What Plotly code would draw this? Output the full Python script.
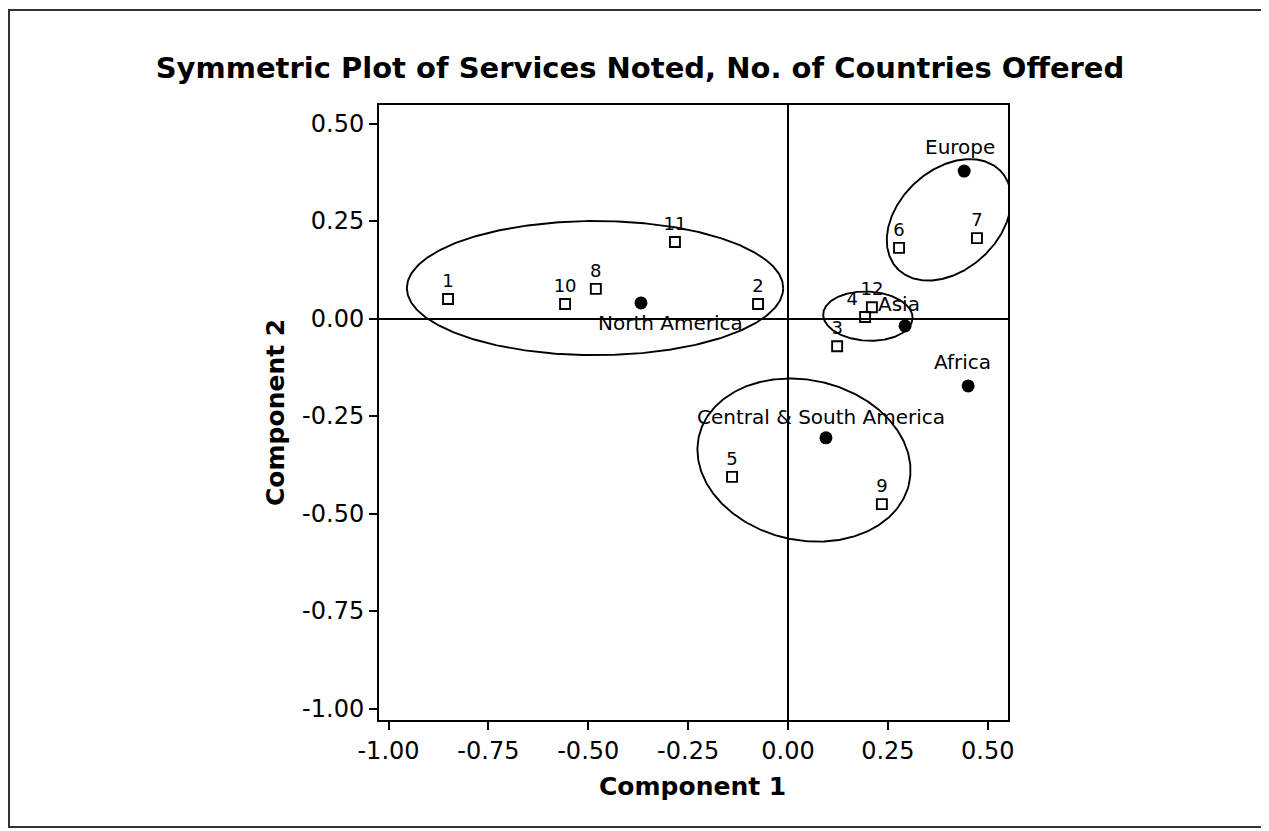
import numpy as np
import plotly.graph_objects as go

# ---- data ----
service_labels = ["1", "2", "3", "4", "5", "6", "7", "8", "9", "10", "11", "12"]
service_x = [-0.851, -0.075, 0.123, 0.193, -0.140, 0.278, 0.473, -0.481, 0.235, -0.558, -0.283, 0.210]
service_y = [0.050, 0.037, -0.071, 0.004, -0.406, 0.181, 0.206, 0.076, -0.476, 0.037, 0.196, 0.029]

region_labels = ["North America", "Europe", "Asia", "Africa", "Central & South America"]
region_x = [-0.368, 0.441, 0.293, 0.451, 0.095]
region_y = [0.040, 0.378, -0.019, -0.173, -0.306]

# ellipses: center x, center y, semi-axis a, semi-axis b, angle (deg)
ell_cx = [-0.483, 0.403, 0.200, 0.040]
ell_cy = [0.078, 0.253, 0.006, -0.363]
ell_a = [0.471, 0.180, 0.112, 0.270]
ell_b = [0.172, 0.127, 0.063, 0.205]
ell_ang = [0.0, 45.0, -3.0, -13.8]

x_ticks = [-1.0, -0.75, -0.5, -0.25, 0.0, 0.25, 0.5]
y_ticks = [0.5, 0.25, 0.0, -0.25, -0.5, -0.75, -1.0]

# page body offset compensation
OFF = 8
W, H = 1269 - OFF, 831 - OFF
PL, PR, PT, PB = 379 - OFF, 1008 - OFF, 105 - OFF, 720 - OFF

FONT = "DejaVu Sans"

fig = go.Figure()

# ellipses
t = np.linspace(0, 2 * np.pi, 400)
for cx, cy, a, b, ang in zip(ell_cx, ell_cy, ell_a, ell_b, ell_ang):
    th = np.deg2rad(ang)
    ex = cx + a * np.cos(t) * np.cos(th) - b * np.sin(t) * np.sin(th)
    ey = cy + a * np.cos(t) * np.sin(th) + b * np.sin(t) * np.cos(th)
    fig.add_trace(go.Scatter(x=ex, y=ey, mode="lines",
                             line=dict(color="black", width=1.9),
                             hoverinfo="skip", showlegend=False))

# services
text_pos = ["top left" if s == "4" else "top center" for s in service_labels]
fig.add_trace(go.Scatter(
    x=service_x, y=service_y, mode="markers+text",
    text=service_labels, textposition=text_pos,
    textfont=dict(family=FONT, size=18, color="black"),
    marker=dict(symbol="square-open", size=10, color="black", line=dict(width=1.9)),
    showlegend=False, cliponaxis=False))

# regions
fig.add_trace(go.Scatter(
    x=region_x, y=region_y, mode="markers",
    marker=dict(symbol="circle", size=13, color="black"),
    showlegend=False))

region_shift = {
    "North America": (30, -20),
    "Europe": (-4, 24),
    "Asia": (-6, 22),
    "Africa": (-6, 24),
    "Central & South America": (-5, 21),
}
for lab, xx, yy in zip(region_labels, region_x, region_y):
    dx, dy = region_shift[lab]
    fig.add_annotation(x=xx, y=yy, text=lab, showarrow=False,
                       xshift=dx, yshift=dy,
                       font=dict(family=FONT, size=20, color="black"))


def px2paper_x(p):
    return (p - OFF - PL) / (PR - PL)


def px2paper_y(p):
    return (PB - (p - OFF)) / (PB - PT)


# outer frame
fig.add_shape(type="rect", xref="paper", yref="paper",
              x0=px2paper_x(9), x1=px2paper_x(1265),
              y0=px2paper_y(827), y1=px2paper_y(10),
              line=dict(color="#333333", width=2), layer="below")

# axis titles
fig.add_annotation(xref="paper", yref="paper", x=px2paper_x(692), y=px2paper_y(786),
                   text="<b>Component 1</b>", showarrow=False,
                   xanchor="center", yanchor="middle",
                   font=dict(family=FONT, size=25, color="black"))
fig.add_annotation(xref="paper", yref="paper", x=px2paper_x(276), y=px2paper_y(413),
                   text="<b>Component 2</b>", showarrow=False, textangle=-90,
                   xanchor="center", yanchor="middle",
                   font=dict(family=FONT, size=25, color="black"))

xr = [(379 - 788) / 399.5, (1008 - 788) / 399.5]
yr = [(318.5 - 720) / 390, (318.5 - 105) / 390]

fig.update_xaxes(range=xr, tickvals=x_ticks, ticktext=[f"{v:.2f}" for v in x_ticks],
                 showgrid=False, zeroline=True, zerolinecolor="black", zerolinewidth=1.7,
                 showline=True, linecolor="black", linewidth=2, mirror=True,
                 ticks="outside", ticklen=8, tickwidth=1.8, tickcolor="black",
                 tickfont=dict(family=FONT, size=24, color="black"))
fig.update_yaxes(range=yr, tickvals=y_ticks, ticktext=[f"{v:.2f}" for v in y_ticks],
                 showgrid=False, zeroline=True, zerolinecolor="black", zerolinewidth=1.7,
                 showline=True, linecolor="black", linewidth=2, mirror=True,
                 ticks="outside", ticklen=8, tickwidth=1.8, tickcolor="black",
                 tickfont=dict(family=FONT, size=24, color="black"))

fig.update_layout(
    width=W, height=H,
    margin=dict(l=PL, r=W - PR, t=PT, b=H - PB, autoexpand=False),
    paper_bgcolor="white", plot_bgcolor="white",
    title=dict(text="<b>Symmetric Plot of Services Noted, No. of Countries Offered</b>",
               x=(640 - OFF) / W, xanchor="center", y=1 - (68 - OFF) / H, yanchor="middle",
               font=dict(family=FONT, size=29, color="black")),
)

fig.write_html("out.html")
